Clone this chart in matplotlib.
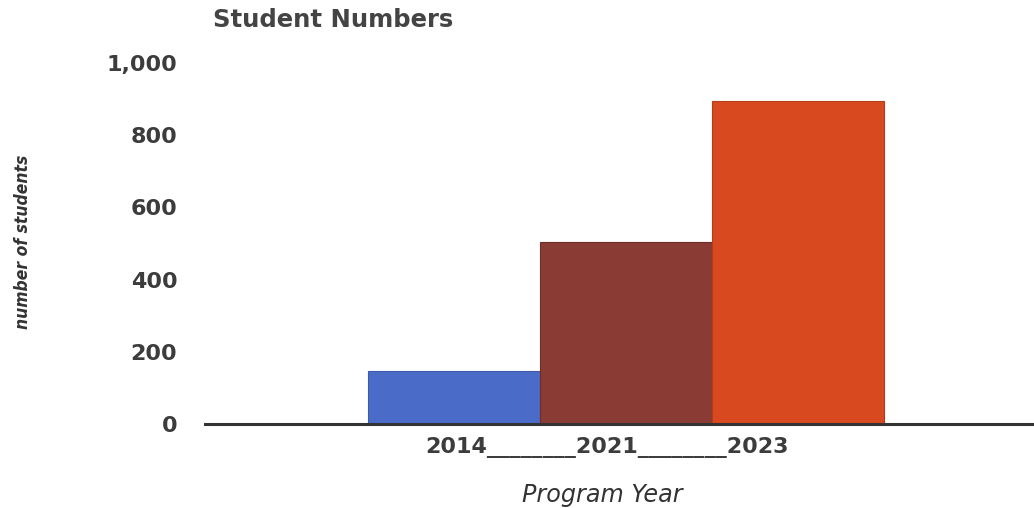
import matplotlib
matplotlib.use("Agg")
import matplotlib.pyplot as plt
from matplotlib.ticker import FuncFormatter
import matplotlib.transforms as mtransforms

years = ["2014", "2021", "2023"]
students = [147, 505, 896]
colors = ["#4a6cc8", "#8a3b34", "#d8491f"]
yticks = [0, 200, 400, 600, 800, 1000]

fig = plt.figure(figsize=(10.34, 5.08), dpi=100)
ax = fig.add_axes([205/1034, 84/508, 1 - 205/1034, (424-63)/508])

pos = list(range(len(years)))
ax.bar(pos, students, width=1.0, color=colors, edgecolor=["#3f5aa8", "#6e2e28", "#b63c19"], linewidth=0.8, zorder=2)
ax.set_xlim(-1.448, 3.372)
ax.set_ylim(0, 1000)

for s in ["top", "right", "left"]:
    ax.spines[s].set_visible(False)
ax.spines["bottom"].set_color("#333333")
ax.spines["bottom"].set_linewidth(2.2)
ax.spines["bottom"].set_zorder(3)

ax.set_yticks(yticks)
ax.yaxis.set_major_formatter(FuncFormatter(lambda v, p: f"{int(v):,}"))
ax.tick_params(axis="y", length=0, pad=20, labelsize=16, labelcolor="#3c3c3c")
for lab in ax.get_yticklabels():
    lab.set_fontweight("bold")
ax.set_xticks([])

# combined tick label text
trans = mtransforms.blended_transform_factory(ax.transData, fig.transFigure)
ax.text(pos[0] - 0.17, 1 - 447/508, "________".join(years), transform=trans,
        ha="left", va="center", fontsize=16, fontweight="bold", color="#3c3c3c")

fig.text(213/1034, 1 - 20/508, "Student Numbers", ha="left", va="center",
         fontsize=17.5, fontweight="bold", color="#444444")
fig.text(602/1034, 1 - 495/508, "Program Year", ha="center", va="center",
         fontsize=17.2, style="italic", color="#333333")
fig.text(23/1034, 1 - 242/508, "number of students", ha="center", va="center",
         rotation=90, fontsize=12.5, style="italic", fontweight="bold",
         fontstretch="condensed", color="#333333", family="DejaVu Sans")

fig.savefig("out.png", dpi=100, facecolor="white")
